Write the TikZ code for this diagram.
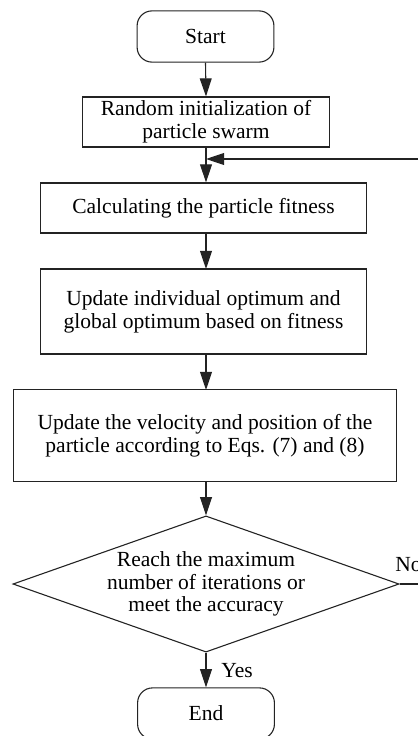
\documentclass[tikz,border=0pt]{standalone}
\usepackage{fontspec}
\setmainfont{Liberation Serif}
\usetikzlibrary{shapes.geometric,arrows.meta,positioning}
\definecolor{line-gray}{RGB}{35,35,35}

\begin{document}
\begin{tikzpicture}[
    x=0.016cm, y=-0.016cm,
    font=\fontsize{9.8}{10.4}\selectfont,
    box/.style = {rectangle, draw=line-gray, line width=0.5pt,
                  align=center, inner sep=0pt},
    term/.style = {box, rounded corners=0.24cm,
                   minimum width=2.19cm, minimum height=0.82cm},
    decision/.style = {diamond, aspect=2.84, draw=line-gray, line width=0.5pt,
                       align=center, inner sep=0pt,
                       minimum width=6.18cm, minimum height=2.18cm},
    arrow/.style = {-{Triangle[length=0.29cm,width=0.19cm]},
                    line width=0.5pt, color=line-gray},
    label/.style = {inner sep=0pt, anchor=base west}
  ]
    %% ---- page frame (the loop runs off the right edge) ----
    \useasboundingbox (0,0) rectangle (418,736);
    \clip (0,0) rectangle (418,736);

    %% ---- main column ----
    \node[term] (start) at (205.5,36.5) {Start};
    \node[box, minimum width=3.94cm, minimum height=0.8cm] (init) at (206,122)
      {Random initialization of\\particle swarm};
    \node[box, minimum width=5.23cm, minimum height=0.8cm] (fitness) at (203.5,208)
      {Calculating the particle fitness};
    \node[box, minimum width=5.23cm, minimum height=1.36cm] (best) at (203.5,311.5)
      {Update individual optimum and\\global optimum based on fitness};
    \node[box, minimum width=6.14cm, minimum height=1.46cm] (move) at (205,435.5)
      {Update the velocity and position of the\\particle according to Eqs. (7) and (8)};
    \node[decision] (check) at (206,584)
      {Reach the maximum\\number of iterations or\\meet the accuracy};
    \node[term] (stop) at (206,713.5) {End};

    \coordinate (join) at (206,159);
    \coordinate (loop) at (440,0);

    \draw[arrow] (start.south) -- (init.north);
    \draw[line width=0.5pt, color=line-gray] (init.south) -- (join);
    \draw[arrow] (join) -- (join |- fitness.north);
    \draw[arrow] (206,233) -- (206,269);
    \draw[arrow] (206,354) -- (206,390);
    \draw[arrow] (206,481) -- (check.north);
    \draw[arrow] (check.south) -- (stop.north);

    %% ---- No: back to the fitness step ----
    \draw[arrow] (check.east) -- (check.east -| loop) -- (loop |- join) -- (join);

    \node[label] (yes) at (221,677) {Yes};
    \node[label] (no)  at (395,571) {No};
\end{tikzpicture}
\end{document}
